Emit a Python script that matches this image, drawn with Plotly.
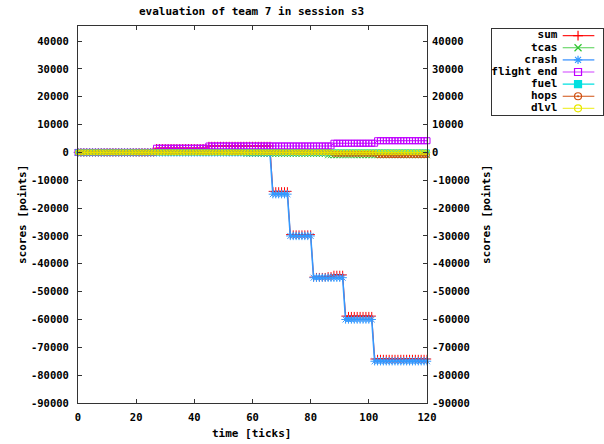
import plotly.graph_objects as go

W, H = 604, 444

# ---- data ----
ticks = list(range(0, 121))

sum_pts = ([0] * 27 + [1500] * 18 + [2300] * 22 + [-14000] * 6 +
           [-29500] * 8 + [-44800] * 5 + [-44500] * 2 + [-44000] * 4 +
           [-58800] * 10 + [-74200] * 19)
tcas = [0] * 58 + [-500] * 28 + [-1000] * 35
crash = [0] * 67 + [-15000] * 6 + [-30000] * 8 + [-45000] * 11 + [-60000] * 10 + [-75000] * 19
flight_end = [0] * 27 + [1500] * 18 + [2300] * 43 + [3300] * 15 + [4200] * 18
fuel = [0] * 121
hops = [0] * 88 + [-500] * 15 + [-1000] * 18
dlvl = [0] * 121

series_names = ["sum", "tcas", "crash", "flight end", "fuel", "hops", "dlvl"]
series_values = [sum_pts, tcas, crash, flight_end, fuel, hops, dlvl]

x_tick_labels = [0, 20, 40, 60, 80, 100, 120]
y_tick_values = list(range(-90000, 40001, 10000))
y_tick_text = [str(v) for v in y_tick_values]

# ---- styles ----
colors = ["#ff0000", "#2fc42f", "#3399ff", "#c000ff", "#00e0e0", "#d05010", "#e8e800"]
legend_line_colors = ["#ff2020", "#50d050", "#70b0ff", "#d040ff", "#00e0e0", "#d05010", "#f0f040"]
symbols = ["cross-thin-open", "x-thin-open", "asterisk-open", "square-open",
           "square", "circle-open-dot", "circle-open"]
sizes = [6, 6, 7, 6, 5, 5, 5]
line_widths = [1, 1, 1.6, 1, 1, 1, 1]

FONT = "DejaVu Sans Mono"

fig = go.Figure()

for name, vals, c, s, sz, lw in zip(series_names, series_values, colors, symbols, sizes, line_widths):
    fig.add_trace(go.Scatter(
        x=ticks, y=vals, mode="lines+markers", name=name,
        line=dict(color=c, width=lw),
        marker=dict(symbol=s, size=sz, color=c, line=dict(color=c, width=1)),
        xaxis="x", yaxis="y", showlegend=False, cliponaxis=False,
    ))

# invisible trace so the right axis is drawn
fig.add_trace(go.Scatter(x=[0], y=[0], mode="markers", marker=dict(opacity=0),
                         xaxis="x", yaxis="y2", showlegend=False, hoverinfo="skip"))

# ---- hand-built legend (symbols to the right of the text, gnuplot style) ----
for i, (name, lc, c, s) in enumerate(zip(series_names, legend_line_colors, colors, symbols)):
    fig.add_trace(go.Scatter(x=[0.637, 0.922], y=[i, i], mode="lines",
                             line=dict(color=lc, width=1.6 if i == 2 else 1.2),
                             xaxis="x3", yaxis="y3", showlegend=False, hoverinfo="skip"))
    fig.add_trace(go.Scatter(x=[0.775], y=[i], mode="markers",
                             marker=dict(symbol=s, size=7, color=c, line=dict(color=c, width=1.2)),
                             xaxis="x3", yaxis="y3", showlegend=False, hoverinfo="skip"))
    fig.add_trace(go.Scatter(x=[0.59], y=[i], mode="text", text=[name],
                             textposition="middle left",
                             textfont=dict(family=FONT, size=11, color="black", weight="bold"),
                             xaxis="x3", yaxis="y3", showlegend=False, hoverinfo="skip",
                             cliponaxis=False))

def px_x(p):
    return p / W

def px_y(p):
    return 1 - p / H

tickfont = dict(family=FONT, size=10.5, color="black", weight="bold")
titlefont = dict(family=FONT, size=11, color="black", weight="bold")

fig.update_layout(
    width=W, height=H,
    margin=dict(l=0, r=0, t=0, b=0, autoexpand=False),
    paper_bgcolor="white", plot_bgcolor="white",
    showlegend=False,
    xaxis=dict(domain=[px_x(78), px_x(427)], range=[0, 120], tickvals=x_tick_labels,
               ticks="inside", ticklen=4, tickcolor="#333", showline=True, linecolor="#333",
               linewidth=1, mirror="ticks", showgrid=False, zeroline=False, automargin=False,
               tickfont=tickfont, ticklabelstandoff=4, anchor="y"),
    yaxis=dict(domain=[px_y(403), px_y(26)], range=[-90000, 45400], tickvals=y_tick_values,
               ticktext=y_tick_text,
               ticks="inside", ticklen=4, tickcolor="#333", showline=True, linecolor="#333",
               linewidth=1, mirror=True, showgrid=False, zeroline=False, automargin=False,
               tickfont=tickfont, ticklabelstandoff=6, anchor="x"),
    yaxis2=dict(range=[-90000, 45400], tickvals=y_tick_values, ticktext=y_tick_text,
                overlaying="y", side="right", automargin=False,
                anchor="x", ticks="inside", ticklen=4, tickcolor="#333", showline=False,
                showgrid=False, zeroline=False, tickfont=tickfont, ticklabelstandoff=4),
    xaxis3=dict(domain=[px_x(492), px_x(603)], range=[0, 1], showticklabels=False,
                ticks="", showgrid=False, zeroline=False, showline=True, mirror=True,
                linecolor="#333", linewidth=1, anchor="y3", automargin=False),
    yaxis3=dict(domain=[px_y(115), px_y(29)], range=[6.55, -0.55], showticklabels=False,
                ticks="", showgrid=False, zeroline=False, showline=True, mirror=True,
                linecolor="#333", linewidth=1, anchor="x3", automargin=False),
    annotations=[
        dict(text="evaluation of team 7 in session s3", xref="paper", yref="paper",
             x=px_x(251), y=px_y(12), xanchor="center", yanchor="middle",
             showarrow=False, font=titlefont),
        dict(text="time [ticks]", xref="paper", yref="paper",
             x=px_x(251), y=px_y(433), xanchor="center", yanchor="middle",
             showarrow=False, font=titlefont),
        dict(text="scores [points]", xref="paper", yref="paper", textangle=-90,
             x=px_x(22), y=px_y(215), xanchor="center", yanchor="middle",
             showarrow=False, font=titlefont),
        dict(text="scores [points]", xref="paper", yref="paper", textangle=-90,
             x=px_x(486), y=px_y(215), xanchor="center", yanchor="middle",
             showarrow=False, font=titlefont),
    ],
)

fig.write_html("out.html",
               config={"displayModeBar": False},
               post_script="document.body.style.margin='0';document.body.style.overflow='hidden';")
